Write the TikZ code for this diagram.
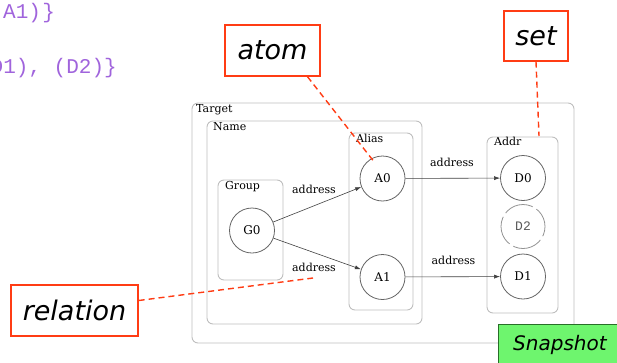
\documentclass[tikz,border=0pt]{standalone}
\usepackage{fontspec}
\setmainfont{DejaVu Serif}
\newfontfamily\calloutfont{DejaVu Sans}
\newfontfamily\codefont{Liberation Mono}
\usetikzlibrary{arrows.meta}
\definecolor{codepurple}{RGB}{160,100,220}
\definecolor{boxgray}{RGB}{190,190,190}
\definecolor{circgray}{RGB}{100,100,100}
\definecolor{calloutred}{RGB}{255,60,20}
\definecolor{snapgreen}{RGB}{110,245,110}
\definecolor{snapborder}{RGB}{40,110,40}
\tikzset{
  groupbox/.style={draw=boxgray, line width=0.9pt, rounded corners=6pt},
  boxtitle/.style={anchor=base west, inner sep=0pt, font=\fontsize{11}{13}\selectfont},
  atomnode/.style={circle, draw=circgray, line width=0.8pt, minimum size=45pt, inner sep=0pt, font=\fontsize{12}{14}\selectfont},
  ghostnode/.style={circle, draw=circgray!70, line width=0.8pt, minimum size=44pt, inner sep=0pt, dash pattern=on 30pt off 4.5pt, dash phase=10pt, text=black!65, font=\codefont\fontsize{13}{15}\selectfont},
  rel/.style={draw=black!75, line width=0.6pt, -{Latex[length=6pt,width=4pt]}},
  rellabel/.style={anchor=base, inner sep=0pt, font=\fontsize{11}{13}\selectfont},
  callout/.style={draw=calloutred, line width=1.4pt, fill=white, inner sep=0pt, font=\calloutfont\itshape\fontsize{27}{30}\selectfont},
  calloutline/.style={draw=calloutred, line width=1.4pt, dash pattern=on 6pt off 4pt},
  codetext/.style={anchor=base west, inner sep=0pt, text=codepurple, font=\codefont\fontsize{21}{24}\selectfont}
}
\begin{document}
\begin{tikzpicture}[x=1pt,y=-1pt]
\useasboundingbox (0,0) rectangle (617,362);
\begin{scope}
\clip (0,0) rectangle (617,362);
% code text at top left
\node[codetext] (code1) at (3,18) {A1)\kern-2pt\,\}};
\node[codetext] (code2) at (-9.5,73) {D1), (D2)\}};

% boxes
\draw[groupbox] (192,103) rectangle (574,343);
\node[boxtitle] (tTarget) at (196,112.5) {Target};
\draw[groupbox] (207,121) rectangle (422,324);
\node[boxtitle] (tName) at (213,130.5) {Name};
\draw[groupbox] (218,180) rectangle (283,280);
\node[boxtitle] (tGroup) at (225,189.5) {Group};
\draw[groupbox] (349,133) rectangle (413,310);
\node[boxtitle] (tAlias) at (356,142.5) {Alias};
\draw[groupbox] (487,137) rectangle (558,313);
\node[boxtitle] (tAddr) at (494,145.5) {Addr};

% atoms
\node[atomnode] (G0) at (252,230.5) {G0};
\node[atomnode] (A0) at (382.5,178.5) {A0};
\node[atomnode] (A1) at (382.5,277) {A1};
\node[atomnode] (D0) at (523,178) {D0};
\node[ghostnode] (D2) at (523,226.5) {D2};
\node[atomnode] (D1) at (523,276.5) {D1};

% relations
\draw[rel] (G0) -- (A0);
\draw[rel] (G0) -- (A1);
\draw[rel] (A0) -- (D0);
\draw[rel] (A1) -- (D1);
\node[rellabel] (l1) at (314,193.5) {address};
\node[rellabel] (l2) at (314,271.5) {address};
\node[rellabel] (l3) at (452,166.5) {address};
\node[rellabel] (l4) at (453.5,264.5) {address};

% callouts
\node[callout, minimum width=95pt, minimum height=51pt] (atom) at (272.5,50.5) {atom};
\node[callout, minimum width=64pt, minimum height=50pt] (set) at (536,36) {set};
\node[callout, minimum width=127pt, minimum height=51pt] (relation) at (74.5,310.5) {relation};
\coordinate (atomEnd) at (375,163);
\coordinate (setEnd) at (539,136);
\coordinate (relEnd) at (313,278);
\draw[calloutline] (atom.south) ++(35pt,0) -- (atomEnd);
\draw[calloutline] (set.south) -- (setEnd);
\draw[calloutline] (relation.east) ++(0,10pt) -- (relEnd);

% snapshot
\node[draw=snapborder, line width=0.8pt, fill=snapgreen, anchor=north west, minimum width=130pt, minimum height=45pt, inner sep=0pt] (snapbox) at (498,324) {};
\node[anchor=base west, inner sep=0pt, font=\calloutfont\itshape\fontsize{20}{24}\selectfont] (snap) at (513,350) {Snapshot};
\end{scope}
\end{tikzpicture}
\end{document}
